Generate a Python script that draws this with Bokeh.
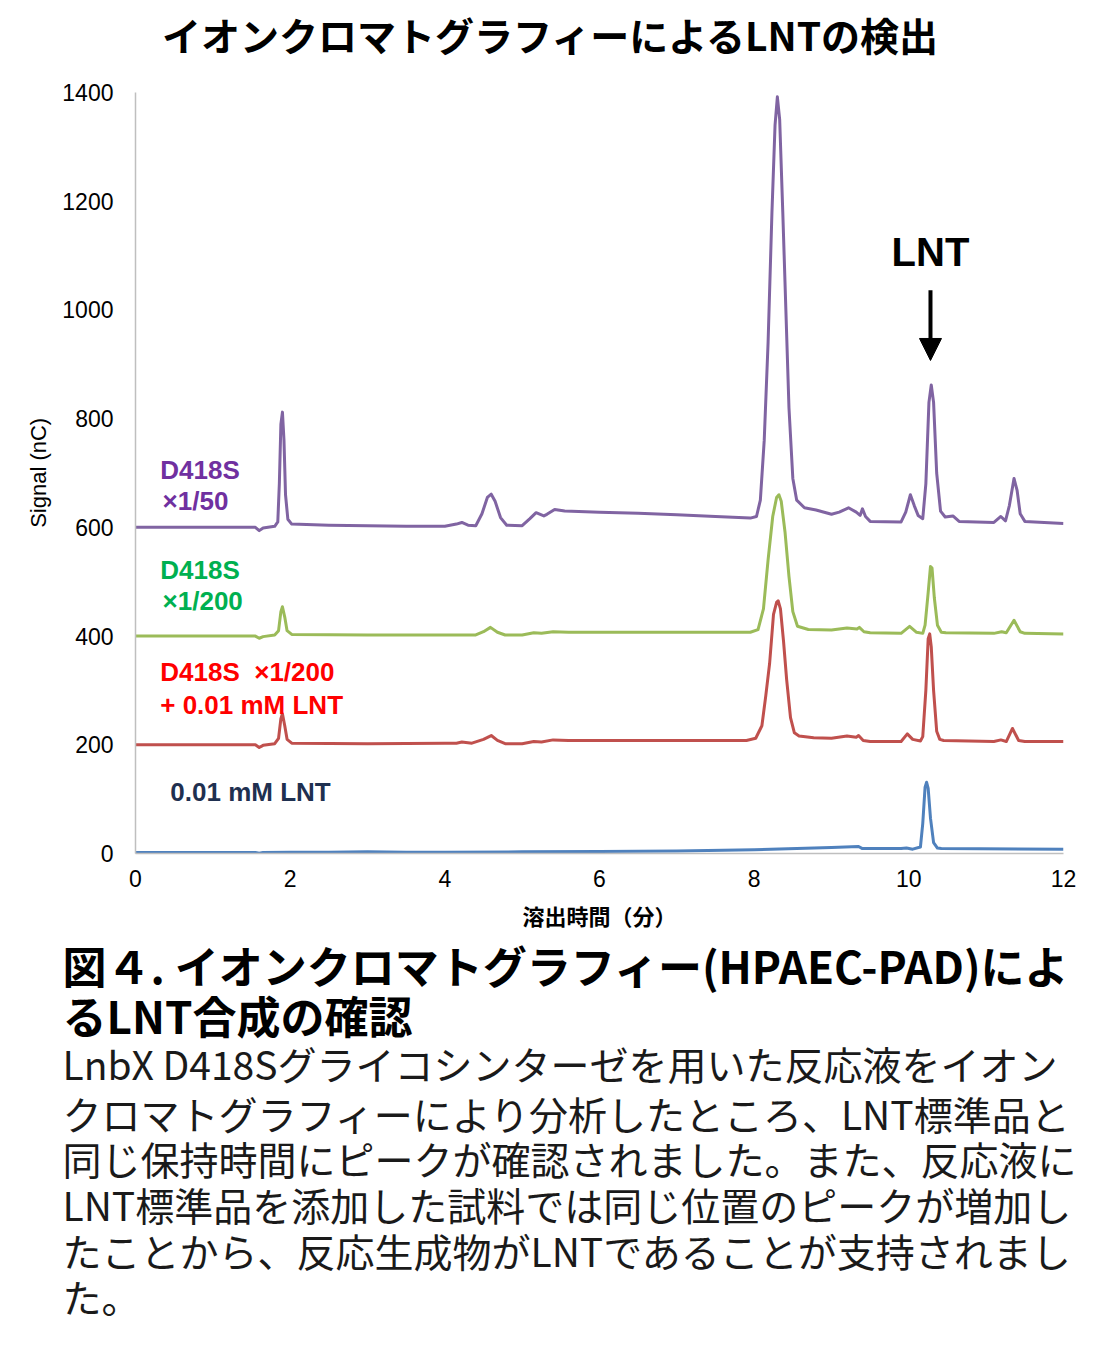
from bokeh.plotting import figure
from bokeh.models import Range1d, Arrow, NormalHead, FixedTicker, Title
from bokeh.core.properties import value
from bokeh.embed import file_html
from bokeh.resources import INLINE

# ---------------- data ----------------
purple_t = [0.00, 1.00, 1.55, 1.60, 1.65, 1.80, 1.84, 1.86, 1.88, 1.90, 1.92, 1.94, 1.97, 2.02,
            2.5, 3.0, 3.5, 4.0, 4.15, 4.22, 4.30, 4.40, 4.48, 4.55, 4.60, 4.65, 4.72, 4.80,
            5.00, 5.10, 5.18, 5.28, 5.32, 5.42, 5.55, 6.00, 6.5, 7.0, 7.5, 7.95, 8.03, 8.08,
            8.13, 8.18, 8.23, 8.27, 8.30, 8.33, 8.37, 8.41, 8.45, 8.50, 8.55, 8.65, 8.80,
            9.00, 9.10, 9.22, 9.32, 9.37, 9.40, 9.44, 9.50, 9.90, 9.96, 10.02, 10.07, 10.12,
            10.18, 10.22, 10.26, 10.29, 10.32, 10.36, 10.41, 10.47, 10.57, 10.65, 11.10,
            11.19, 11.25, 11.30, 11.36, 11.40, 11.44, 11.50, 12.00]
purple_y = [600, 600, 600, 594, 599, 602, 610, 680, 790, 812, 760, 660, 615, 606,
            604, 603, 602, 602, 606, 609, 604, 603, 625, 655, 661, 648, 618, 604,
            603, 616, 627, 621, 624, 633, 630, 628, 626, 623, 620, 617, 620, 650,
            760, 940, 1180, 1340, 1392, 1350, 1180, 1000, 820, 690, 650, 636, 632,
            624, 628, 636, 628, 622, 634, 620, 611, 610, 628, 660, 640, 622,
            616, 680, 830, 862, 830, 700, 630, 619, 621, 611, 609,
            620, 612, 640, 690, 668, 625, 611, 607]

green_t = [0.00, 1.55, 1.60, 1.65, 1.80, 1.85, 1.88, 1.90, 1.93, 1.96, 2.02, 3.0, 4.0, 4.40,
           4.50, 4.59, 4.68, 4.78, 5.00, 5.15, 5.25, 5.40, 5.6, 7.0, 7.95, 8.05, 8.12, 8.18,
           8.24, 8.29, 8.32, 8.35, 8.40, 8.45, 8.50, 8.56, 8.70, 9.00, 9.20, 9.33, 9.36,
           9.42, 9.50, 9.90, 10.01, 10.10, 10.18, 10.21, 10.25, 10.28, 10.30, 10.33, 10.37,
           10.42, 10.48, 11.10, 11.20, 11.26, 11.36, 11.44, 11.50, 12.00]
green_y = [400, 400, 396, 399, 402, 410, 445, 454, 435, 410, 403, 402, 402, 402,
           408, 416, 407, 402, 402, 406, 405, 408, 407, 407, 407, 412, 450, 540,
           620, 655, 660, 648, 590, 510, 445, 418, 412, 411, 415, 413, 416,
           408, 406, 405, 418, 407, 405, 420, 480, 528, 525, 470, 420,
           407, 406, 405, 408, 406, 429, 408, 405, 404]

red_t = [0.00, 1.55, 1.60, 1.65, 1.80, 1.85, 1.88, 1.90, 1.93, 1.96, 2.02, 3.0, 4.0, 4.15,
         4.22, 4.35, 4.50, 4.60, 4.68, 4.78, 5.00, 5.15, 5.25, 5.40, 5.6, 7.9, 8.02, 8.10,
         8.15, 8.20, 8.25, 8.29, 8.31, 8.34, 8.38, 8.42, 8.47, 8.52, 8.58, 8.77, 9.00,
         9.20, 9.32, 9.35, 9.41, 9.50, 9.90, 9.98, 10.05, 10.15, 10.18, 10.22, 10.25,
         10.27, 10.29, 10.32, 10.36, 10.40, 10.45, 11.10, 11.19, 11.26, 11.34, 11.42,
         11.50, 12.00]
red_y = [200, 200, 195, 199, 202, 212, 248, 257, 235, 210, 203, 202, 203, 203,
         205, 203, 210, 217, 208, 202, 202, 206, 205, 209, 208, 208, 212, 235,
         290, 350, 440, 462, 465, 450, 390, 320, 250, 222, 216, 213, 212,
         216, 214, 217, 208, 206, 206, 220, 210, 207, 215, 300, 395,
         404, 380, 300, 225, 210, 208, 206, 209, 206, 230, 208,
         206, 206]

blue_t = [0.00, 1.00, 1.55, 1.60, 1.65, 2.0, 2.5, 3.0, 3.5, 4.0, 5.0, 6.0, 7.0, 8.0, 9.0,
          9.35, 9.40, 9.90, 9.97, 10.05, 10.15, 10.18, 10.21, 10.23, 10.25, 10.28, 10.32,
          10.37, 10.42, 12.00]
blue_y = [2, 2, 2, 0.5, 2, 2.5, 2.5, 3, 2.5, 2.5, 3, 3.5, 4.5, 7, 11,
          13, 9, 9, 10, 8, 12, 55, 122, 131, 120, 65, 20,
          10, 9, 8]

x_ticks = [0, 2, 4, 6, 8, 10, 12]
y_ticks = [0, 200, 400, 600, 800, 1000, 1200, 1400]

label_rows = [
    ("D418S", 0.32, 706, "#7030a0"),
    ("×1/50", 0.35, 649, "#7030a0"),
    ("D418S", 0.32, 522, "#00b050"),
    ("×1/200", 0.35, 465, "#00b050"),
    ("D418S\u00a0\u00a0×1/200", 0.32, 333, "#ff0000"),
    ("+ 0.01 mM LNT", 0.32, 274, "#ff0000"),
    ("0.01 mM LNT", 0.45, 114, "#1f3050"),
]

title_text = "イオンクロマトグラフィーによるLNTの検出"
y_label = "Signal (nC)"
caption_head = ["図４. イオンクロマトグラフィー(HPAEC-PAD)によ", "るLNT合成の確認"]
caption_body = [
    "LnbX D418Sグライコシンターゼを用いた反応液をイオン",
    "クロマトグラフィーにより分析したところ、LNT標準品と",
    "同じ保持時間にピークが確認されました。また、反応液に",
    "LNT標準品を添加した試料では同じ位置のピークが増加し",
    "たことから、反応生成物がLNTであることが支持されまし",
    "た。",
]

CJK = "Noto Sans CJK JP"
SANS = "Liberation Sans"

# layout: the plot area keeps 761 px for 0..1400, and extends upward 92 px for the heading
Y_MAX = 1400
PX_PER_UNIT = 761 / Y_MAX
Y_TOP = Y_MAX + 92 / PX_PER_UNIT
TITLE_Y = Y_MAX + (92 - 33) / PX_PER_UNIT
TITLE_X = (550.5 - 135) / (928 / 12)
# the axis label is centred on the whole (extended) frame: pad it so that the
# visible words sit centred on the 0..1400 part of the axis
Y_LABEL_PAD = "\u00a0" * 15

# ---------------- chart ----------------
p = figure(frame_width=928, frame_height=853, x_range=Range1d(0, 12), y_range=Range1d(0, Y_TOP),
           output_backend="svg", toolbar_location=None, title_location=None,
           min_border_left=135, min_border_right=27, min_border_top=0, min_border_bottom=487)
p.grid.visible = False
p.outline_line_color = None
for ax in (p.xaxis[0], p.yaxis[0]):
    ax.axis_line_color = "#bfbfbf"
    ax.axis_line_width = 1.5
    ax.major_tick_line_color = None
    ax.minor_tick_line_color = None
    ax.major_tick_out = 0
    ax.major_tick_in = 0
    ax.major_label_text_font = SANS
    ax.major_label_text_font_size = "23px"
    ax.major_label_text_color = "#000000"
    ax.axis_label_text_color = "#000000"
p.xaxis.ticker = FixedTicker(ticks=x_ticks)
p.yaxis.ticker = FixedTicker(ticks=y_ticks)
p.yaxis.bounds = (0, Y_MAX)
p.xaxis.major_label_standoff = 16
p.yaxis.major_label_standoff = 22
p.xaxis.axis_label = "溶出時間（分）"
p.xaxis.axis_label_text_font = CJK
p.xaxis.axis_label_text_font_style = "bold"
p.xaxis.axis_label_text_font_size = "22px"
p.xaxis.axis_label_standoff = 9
p.yaxis.axis_label = y_label + Y_LABEL_PAD
p.yaxis.axis_label_text_font = SANS
p.yaxis.axis_label_text_font_style = "normal"
p.yaxis.axis_label_text_font_size = "22px"
p.yaxis.axis_label_standoff = 8

p.line(blue_t, blue_y, line_color="#4f81bd", line_width=3, line_join="round")
p.line(red_t, red_y, line_color="#c0504d", line_width=3, line_join="round")
p.line(green_t, green_y, line_color="#9bbb59", line_width=3, line_join="round")
p.line(purple_t, purple_y, line_color="#8064a2", line_width=3, line_join="round")

for txt, x, y, col in label_rows:
    p.text(x=[x], y=[y], text=[txt], text_font=value(SANS), text_font_style="bold",
           text_font_size="26px", text_color=col, text_align="left", text_baseline="middle")

p.text(x=[10.28], y=[1106], text=["LNT"], text_font=value(SANS), text_font_style="bold",
       text_font_size="40px", text_color="#000000", text_align="center", text_baseline="middle")
p.add_layout(Arrow(end=NormalHead(size=22, fill_color="#000000", line_color="#000000"),
                   x_start=10.28, y_start=1036, x_end=10.28, y_end=907,
                   line_width=4, line_color="#000000"))

# heading of the chart
p.text(x=[TITLE_X], y=[TITLE_Y], text=[title_text], text_font=value(CJK), text_font_style="bold",
       text_font_size="39px", text_color="#000000", text_align="center", text_baseline="middle")

# ---------------- caption ----------------
head_standoffs = [-6, -26]
body_standoffs = [-1, -15, -12, -12, -12, -12]
cap_titles = []
for txt, so in zip(caption_head, head_standoffs):
    cap_titles.append(Title(text=txt, align="left", offset=-73, standoff=so,
                            text_font=CJK, text_font_style="bold", text_font_size="44px",
                            text_color="#000000"))
for txt, so in zip(caption_body, body_standoffs):
    cap_titles.append(Title(text=txt, align="left", offset=-73, standoff=so,
                            text_font=CJK, text_font_style="normal", text_font_size="39px",
                            text_color="#1a1a1a"))
for t in cap_titles:
    p.add_layout(t, "below")

open("out.html", "w").write(file_html(p, INLINE))
